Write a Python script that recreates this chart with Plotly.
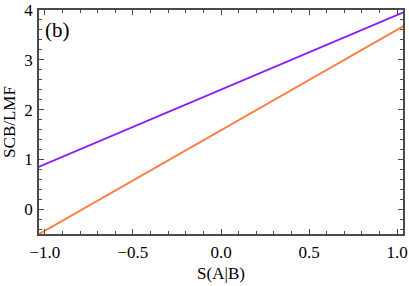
import plotly.graph_objects as go

x_ends = [-1.05, 1.05]
purple_y = [0.825, 3.975]
orange_y = [-0.536, 3.706]

x_ticks = [-1.0, -0.5, 0.0, 0.5, 1.0]
y_ticks = [0, 1, 2, 3, 4]

fig = go.Figure()
fig.add_trace(go.Scatter(x=x_ends, y=orange_y, mode="lines",
                         line=dict(color="#ff7f3f", width=2), showlegend=False))
fig.add_trace(go.Scatter(x=x_ends, y=purple_y, mode="lines",
                         line=dict(color="#8a1cff", width=2), showlegend=False))

font = dict(family="Liberation Serif", size=17, color="black")
axis_common = dict(showgrid=False, zeroline=False, showline=True, linecolor="#4a4a4a",
                   linewidth=1.5, mirror="ticks", ticks="inside", ticklen=5,
                   tickcolor="#4a4a4a", tickwidth=1, tickfont=font, automargin=False,
                   ticklabeloverflow="allow")
fig.update_xaxes(range=[-1.033, 1.033], tickvals=x_ticks, tickformat=".1f",
                 ticklabelstandoff=2,
                 minor=dict(dtick=0.1, ticks="inside", ticklen=3, tickcolor="#4a4a4a"),
                 title=dict(text="S(A|B)", font=font, standoff=6), **axis_common)
fig.update_yaxes(range=[-0.5, 4.0], tickvals=y_ticks, ticklabelstandoff=1,
                 minor=dict(dtick=0.2, ticks="inside", ticklen=3, tickcolor="#4a4a4a"),
                 title=dict(text="SCB/LMF", font=font, standoff=5), **axis_common)
fig.add_annotation(text="(b)", xref="paper", yref="paper", x=0.01, y=0.975,
                   xanchor="left", yanchor="top", showarrow=False,
                   font=dict(family="Liberation Serif", size=21, color="black"))
fig.update_layout(width=409, height=286, margin=dict(l=39, r=6, t=10, b=52),
                  plot_bgcolor="white", paper_bgcolor="white")
fig.write_html("out.html", config={"displayModeBar": False},
               post_script="document.body.style.margin='0px';")
